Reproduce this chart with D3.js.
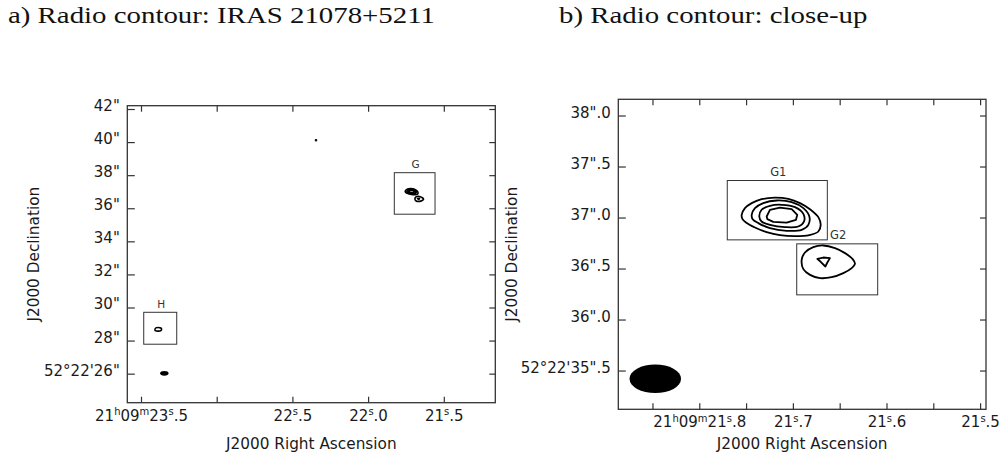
<!DOCTYPE html>
<html><head><meta charset="utf-8">
<script src="https://cdn.jsdelivr.net/npm/d3@7"></script>
<style>
html,body{margin:0;padding:0;background:#fff;}
svg{display:block;}
</style></head>
<body>
<svg id="chart" width="1006" height="465"></svg>
<script>
// ---------------- data ----------------
const titles = ["a) Radio contour: IRAS 21078+5211", "b) Radio contour: close-up"];
const xAxisTitle = "J2000 Right Ascension";
const yAxisTitle = "J2000 Declination";

// Panel a (wide field) ticks: RA seconds (21h09m..), Dec arcsec (52°22'..)
const leftRaTicks = [23.5, 23.0, 22.5, 22.0, 21.5];
const leftRaLabels = ["21^h09^m23^s.5", "", "22^s.5", "22^s.0", "21^s.5"];
const leftDecTicks = [26, 28, 30, 32, 34, 36, 38, 40, 42];
const leftDecLabels = ["52°22'26\"", "28\"", "30\"", "32\"", "34\"", "36\"", "38\"", "40\"", "42\""];
const leftRaDomain = [23.5905, 21.1599];
const leftDecDomain = [24.244, 42.2];

// Panel b (close-up) ticks
const rightRaTicks = [21.85, 21.8, 21.75, 21.7, 21.65, 21.6, 21.55, 21.5];
const rightRaLabels = ["", "21^h09^m21^s.8", "", "21^s.7", "", "21^s.6", "", "21^s.5"];
const rightDecTicks = [35.5, 36.0, 36.5, 37.0, 37.5, 38.0];
const rightDecLabels = ["52°22'35\".5", "36\".0", "36\".5", "37\".0", "37\".5", "38\".0"];
const rightRaDomain = [21.8865, 21.4937];
const rightDecDomain = [35.12, 38.159];

// Contours, [RA s, Dec arcsec]
const g1Level1 = [[21.7547,37.027],[21.7512,37.092],[21.7440,37.141],[21.7334,37.180],[21.7191,37.196],[21.7049,37.183],[21.6924,37.141],[21.6810,37.076],[21.6728,37.004],[21.6703,36.928],[21.6728,36.863],[21.6824,36.827],[21.6977,36.817],[21.7138,36.827],[21.7280,36.857],[21.7405,36.902],[21.7501,36.951],[21.7540,36.987]];
const g1Level2 = [[21.7440,37.027],[21.7405,37.092],[21.7316,37.141],[21.7173,37.167],[21.7013,37.151],[21.6888,37.092],[21.6824,37.010],[21.6835,36.928],[21.6906,36.879],[21.7067,36.870],[21.7245,36.896],[21.7369,36.945],[21.7430,36.984]];
const g1Level3 = [[21.7359,37.010],[21.7334,37.076],[21.7245,37.115],[21.7120,37.125],[21.6977,37.102],[21.6888,37.036],[21.6881,36.961],[21.6942,36.912],[21.7084,36.906],[21.7245,36.928],[21.7334,36.961]];
const g1Level4 = [[21.7280,37.010],[21.7245,37.076],[21.7138,37.098],[21.7013,37.082],[21.6953,37.027],[21.6967,36.978],[21.7067,36.951],[21.7209,36.958],[21.7273,36.984]];
const g2Level1 = [[21.6906,36.585],[21.6871,36.657],[21.6782,36.710],[21.6675,36.726],[21.6550,36.700],[21.6443,36.651],[21.6361,36.592],[21.6337,36.546],[21.6372,36.504],[21.6461,36.455],[21.6586,36.415],[21.6710,36.406],[21.6817,36.438],[21.6888,36.494]];
const g2Level2 = [[21.6739,36.595],[21.6675,36.608],[21.6604,36.602],[21.6632,36.559],[21.6653,36.520],[21.6703,36.566]];
const hLevel1 = [[23.408,28.65],[23.403,28.76],[23.386,28.79],[23.369,28.76],[23.364,28.70],[23.369,28.60],[23.386,28.57],[23.403,28.59]];
const spotLevel1 = [[22.3475,40.11],[22.344,40.135],[22.3405,40.11],[22.344,40.085]];

const smoothContours = [g1Level1, g1Level2, g1Level3, g2Level1, hLevel1, spotLevel1];
const angularContours = [g1Level4, g2Level2];

// Restoring beam: full width in RA seconds, full height in arcsec
const beamSize = [0.055, 0.28];
const leftBeamCenter = [23.346, 26.02];
const rightBeamCenter = [21.847, 35.419];

// Boxes around sources
const leftBoxNames = ["G", "H"];
const leftBoxRa = [[21.827, 21.558], [23.482, 23.264]];
const leftBoxDec = [[35.64, 38.15], [27.78, 29.71]];
const rightBoxNames = ["G1", "G2"];
const rightBoxRa = [[21.7701, 21.6632], [21.6959, 21.6094]];
const rightBoxDec = [[36.781, 37.363], [36.242, 36.742]];

// ---------------- layout ----------------
const svg = d3.select("#chart");
const panels = [
  {x0:127.3, x1:495.3, y0:105.7, y1:402.7, ra:leftRaDomain, dec:leftDecDomain,
   raTicks:leftRaTicks, raLabels:leftRaLabels, decTicks:leftDecTicks, decLabels:leftDecLabels,
   beam:leftBeamCenter, boxNames:leftBoxNames, boxRa:leftBoxRa, boxDec:leftBoxDec,
   yTitleX:38.5, titleX:8, contourW:1.6, boxFont:10.5},
  {x0:618.3, x1:986, y0:99.3, y1:409.3, ra:rightRaDomain, dec:rightDecDomain,
   raTicks:rightRaTicks, raLabels:rightRaLabels, decTicks:rightDecTicks, decLabels:rightDecLabels,
   beam:rightBeamCenter, boxNames:rightBoxNames, boxRa:rightBoxRa, boxDec:rightBoxDec,
   yTitleX:517, titleX:559, contourW:1.8, boxFont:11.5}
];

const TICK_FONT = "'DejaVu Sans', sans-serif";
const ink = "#1a1a1a";

function fillLabel(textSel, label) {
  textSel.text(null);
  if (!label) return;
  const parts = [];
  let buf = "";
  for (let i = 0; i < label.length; i++) {
    if (label[i] === "^" && i + 1 < label.length) {
      if (buf) parts.push([buf, false]);
      buf = "";
      parts.push([label[i + 1], true]);
      i++;
    } else buf += label[i];
  }
  if (buf) parts.push([buf, false]);
  let raised = false;
  parts.forEach(([t, sup]) => {
    const ts = textSel.append("tspan").text(t);
    if (sup) {
      ts.attr("font-size", 10).attr("dy", raised ? 0 : -5.5);
      raised = true;
    } else {
      ts.attr("dy", raised ? 5.5 : 0);
      raised = false;
    }
  });
}

panels.forEach((p, pi) => {
  const x = d3.scaleLinear().domain(p.ra).range([p.x0, p.x1]);
  const y = d3.scaleLinear().domain(p.dec).range([p.y1, p.y0]);
  const g = svg.append("g");

  const clipId = "clip" + pi;
  svg.append("clipPath").attr("id", clipId).append("rect")
    .attr("x", p.x0).attr("y", p.y0).attr("width", p.x1 - p.x0).attr("height", p.y1 - p.y0);

  // axes (ticks pointing inward)
  const bottom = d3.axisBottom(x).tickValues(p.raTicks).tickSizeInner(-6).tickSizeOuter(0).tickFormat(() => "");
  const top = d3.axisTop(x).tickValues(p.raTicks).tickSizeInner(-6).tickSizeOuter(0).tickFormat(() => "");
  const left = d3.axisLeft(y).tickValues(p.decTicks).tickSizeInner(-7.5).tickSizeOuter(0).tickFormat(() => "");
  const right = d3.axisRight(y).tickValues(p.decTicks).tickSizeInner(-6).tickSizeOuter(0).tickFormat(() => "");

  const gb = g.append("g").attr("transform", `translate(0,${p.y1})`).call(bottom);
  const gt = g.append("g").attr("transform", `translate(0,${p.y0})`).call(top);
  const gl = g.append("g").attr("transform", `translate(${p.x0},0)`).call(left);
  const gr = g.append("g").attr("transform", `translate(${p.x1},0)`).call(right);
  [gb, gt, gl, gr].forEach(a => {
    a.select(".domain").remove();
    a.selectAll("line").attr("stroke", "#333").attr("stroke-width", 1.2);
  });
  gb.selectAll(".tick text").each(function(d, i) {
    const t = d3.select(this).attr("y", 18).attr("dy", 0)
      .attr("font-family", TICK_FONT).attr("font-size", 15).attr("fill", ink);
    fillLabel(t, p.raLabels[i]);
  });
  gl.selectAll(".tick text").each(function(d, i) {
    const t = d3.select(this).attr("x", -7.5).attr("y", 1.5).attr("dy", "0.36em")
      .attr("font-family", TICK_FONT).attr("font-size", 15).attr("fill", ink);
    fillLabel(t, p.decLabels[i]);
  });
  gt.selectAll(".tick text").remove();
  gr.selectAll(".tick text").remove();

  // frame
  g.append("rect").attr("x", p.x0).attr("y", p.y0)
    .attr("width", p.x1 - p.x0).attr("height", p.y1 - p.y0)
    .attr("fill", "none").attr("stroke", "#333").attr("stroke-width", 1.3);

  // axis titles
  g.append("text").attr("x", (p.x0 + p.x1) / 2).attr("y", 448.5)
    .attr("text-anchor", "middle").attr("font-family", TICK_FONT).attr("font-size", 15.3)
    .attr("fill", ink).text(xAxisTitle);
  g.append("text").attr("transform", `translate(${p.yTitleX},${(p.y0 + p.y1) / 2}) rotate(-90)`)
    .attr("text-anchor", "middle").attr("font-family", TICK_FONT).attr("font-size", 15.3)
    .attr("fill", ink).text(yAxisTitle);

  // contents
  const content = g.append("g").attr("clip-path", `url(#${clipId})`);

  // boxes
  p.boxNames.forEach((name, bi) => {
    const bx0 = x(p.boxRa[bi][0]), bx1 = x(p.boxRa[bi][1]);
    const by0 = y(p.boxDec[bi][1]), by1 = y(p.boxDec[bi][0]);
    content.append("rect").attr("x", Math.min(bx0, bx1)).attr("y", by0)
      .attr("width", Math.abs(bx1 - bx0)).attr("height", by1 - by0)
      .attr("fill", "none").attr("stroke", "#333").attr("stroke-width", 1);
    g.append("text").attr("x", (bx0 + bx1) / 2 + 1).attr("y", by0 - 4.5)
      .attr("text-anchor", "middle").attr("font-family", TICK_FONT)
      .attr("font-size", p.boxFont).attr("fill", "#333").text(name);
  });

  const smooth = d3.line().x(d => x(d[0])).y(d => y(d[1])).curve(d3.curveCatmullRomClosed.alpha(0.5));
  const angular = d3.line().x(d => x(d[0])).y(d => y(d[1])).curve(d3.curveLinearClosed);
  content.selectAll("path.smooth").data(smoothContours).join("path")
    .attr("class", "smooth").attr("d", smooth)
    .attr("fill", "none").attr("stroke", "#000").attr("stroke-width", p.contourW)
    .attr("stroke-linejoin", "round");
  content.selectAll("path.angular").data(angularContours).join("path")
    .attr("class", "angular").attr("d", angular)
    .attr("fill", "none").attr("stroke", "#000").attr("stroke-width", p.contourW)
    .attr("stroke-linejoin", "round");

  // beam
  const bcx = x(p.beam[0]), bcy = y(p.beam[1]);
  content.append("ellipse").attr("cx", bcx).attr("cy", bcy)
    .attr("rx", Math.abs(x(p.beam[0] + beamSize[0] / 2) - bcx))
    .attr("ry", Math.abs(y(p.beam[1] + beamSize[1] / 2) - bcy))
    .attr("fill", "#000");

  // panel title
  svg.append("text").attr("class", "ptitle").attr("x", p.titleX).attr("y", 22.5)
    .attr("font-family", "'Liberation Serif', 'Times New Roman', serif")
    .attr("font-size", 23).attr("fill", "#111").text(titles[pi]);
});

// stretch titles so they match the wider Computer-Modern look
const tnodes = svg.selectAll("text.ptitle").nodes();
const wa = tnodes[0].getComputedTextLength();
const k = 427 / wa;
tnodes.forEach(n => {
  const w = n.getComputedTextLength();
  d3.select(n).attr("textLength", w * k).attr("lengthAdjust", "spacingAndGlyphs");
});
</script>
</body></html>
